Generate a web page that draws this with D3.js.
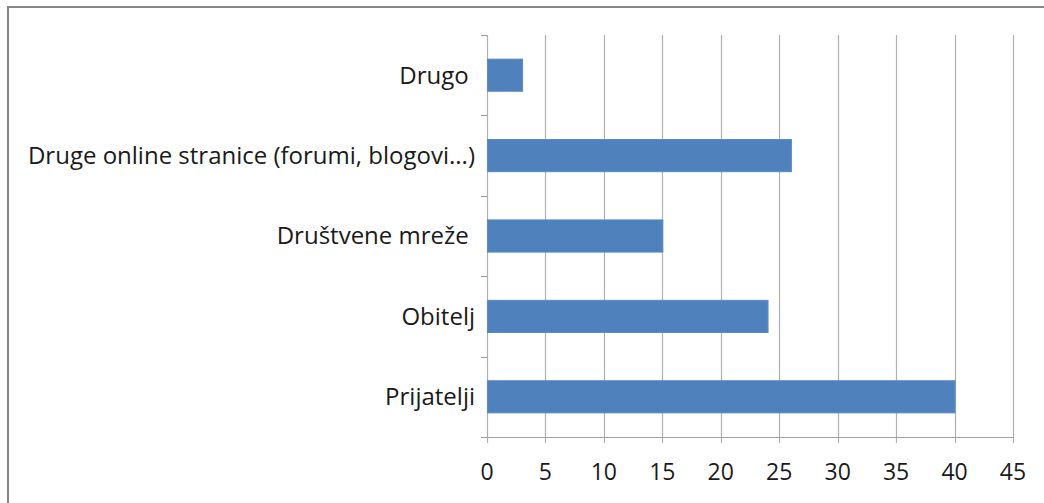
<!DOCTYPE html>
<meta charset="utf-8">
<script src="https://cdn.jsdelivr.net/npm/d3@7"></script>
<style>
  body { margin: 0; background: #fff; }
  .lbl { font-family: "Open Sans", sans-serif; fill: #1a1a1a; white-space: pre; }
  .grid line { stroke: #b0b0b0; stroke-width: 1.2px; }
</style>
<body>
<div id="chart"></div>
<script>
// categories listed top-to-bottom as they appear
var categories = ["Drugo ", "Druge online stranice (forumi, blogovi...)", "Društvene mreže ", "Obitelj", "Prijatelji"];
var values = [3, 26, 15, 24, 40];
var xTicks = [0, 5, 10, 15, 20, 25, 30, 35, 40, 45];

var width = 1044, height = 503;
var plotL = 487, plotR = 1013, plotT = 35, plotB = 437;

var svg = d3.select("#chart").append("svg")
    .attr("width", width)
    .attr("height", height);

// chart frame
svg.append("rect")
    .attr("x", 8).attr("y", 7)
    .attr("width", width + 20).attr("height", height + 20)
    .attr("fill", "#fff")
    .attr("stroke", "#868686")
    .attr("stroke-width", 2);

var x = d3.scaleLinear().domain([0, 45]).range([plotL, plotR]);
var y = d3.scaleBand().domain(categories).range([plotT, plotB])
    .paddingInner(0.6).paddingOuter(0.3);
var step = (plotB - plotT) / categories.length;

// vertical gridlines + tick marks below
var grid = svg.append("g").attr("class", "grid");
grid.selectAll("line")
    .data(xTicks)
    .enter().append("line")
    .attr("x1", d => Math.round(x(d)) + 0.5)
    .attr("x2", d => Math.round(x(d)) + 0.5)
    .attr("y1", plotT)
    .attr("y2", plotB + 6);

// horizontal axis line
svg.append("line")
    .attr("x1", plotL - 6).attr("x2", plotR + 0.5)
    .attr("y1", Math.round(plotB) + 0.5).attr("y2", Math.round(plotB) + 0.5)
    .attr("stroke", "#a0a0a0").attr("stroke-width", 1.2);

// category boundary ticks on the left
svg.append("g").selectAll("line")
    .data(d3.range(categories.length))
    .enter().append("line")
    .attr("x1", plotL - 6).attr("x2", plotL)
    .attr("y1", d => Math.round(plotT + d * step) + 0.5)
    .attr("y2", d => Math.round(plotT + d * step) + 0.5)
    .attr("stroke", "#a0a0a0").attr("stroke-width", 1.2);

// bars
svg.append("g").selectAll("rect")
    .data(categories)
    .enter().append("rect")
    .attr("x", x(0) + 0.5)
    .attr("y", d => y(d))
    .attr("width", (d, i) => x(values[i]) - x(0))
    .attr("height", y.bandwidth())
    .attr("fill", "#4f81bd")
    .attr("stroke", "#5b8cc6")
    .attr("stroke-width", 1);

// category labels
svg.append("g").selectAll("text")
    .data(categories)
    .enter().append("text")
    .attr("class", "lbl")
    .attr("x", plotL - 12)
    .attr("y", d => y(d) + y.bandwidth() / 2)
    .attr("dy", "0.35em")
    .attr("text-anchor", "end")
    .attr("font-size", "24px")
    .text(d => d);

// x tick labels
svg.append("g").selectAll("text")
    .data(xTicks)
    .enter().append("text")
    .attr("class", "lbl")
    .attr("x", d => x(d))
    .attr("y", 480)
    .attr("text-anchor", "middle")
    .attr("font-size", "23px")
    .text(d => d);
</script>
</body>
